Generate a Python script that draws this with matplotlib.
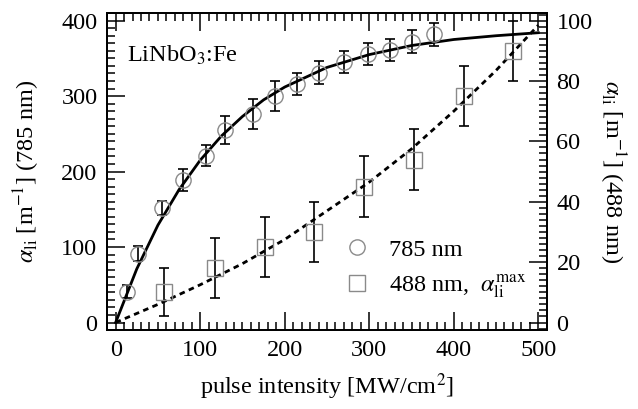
import matplotlib
matplotlib.use("Agg")
import matplotlib.pyplot as plt
from matplotlib.lines import Line2D
from matplotlib.ticker import MultipleLocator

plt.rcParams["font.family"] = ["Liberation Serif", "DejaVu Serif"]
plt.rcParams["mathtext.fontset"] = "stix"

# 785 nm data (left axis)
x785 = [13, 26, 55, 80, 107, 129, 162, 189, 214, 241, 270, 298, 324, 350, 377]
y785 = [41, 91, 152, 189, 221, 255, 276, 300, 316, 331, 345, 356, 361, 372, 382]
e785 = [9, 10, 9, 15, 14, 18, 20, 20, 15, 15, 15, 15, 15, 15, 15]

# 488 nm data (right axis)
x488 = [57, 117, 177, 235, 294, 353, 412, 470]
y488 = [10, 18, 25, 30, 45, 54, 75, 90]
e488 = [8, 10, 10, 10, 10, 10, 10, 10]

# fit curves
fit_x = [0, 25, 50, 75, 100, 125, 150, 175, 200, 250, 300, 350, 400, 450, 500]
fit785 = [0, 71, 129, 176, 215, 247, 273, 295, 312, 338, 355, 367, 375, 380, 384]
fit488_x = [0, 50, 100, 150, 200, 250, 300, 350, 400, 450, 500]
fit488 = [0, 6, 12.5, 19.5, 27.5, 37, 46.5, 57.5, 70, 83.5, 98.5]

fs = 17.5
fig = plt.figure(figsize=(6.38, 4.09), dpi=100)
ax = fig.add_axes([0.168, 0.193, 0.689, 0.775])
ax2 = ax.twinx()

gray = "#8a8a8a"
ax.plot(fit_x, fit785, color="black", lw=2)
ax.errorbar(x785, y785, yerr=e785, fmt="none", ecolor="black", elinewidth=1.2, capsize=3.5, capthick=1.2)
ax.plot(x785, y785, "o", mfc="none", mec=gray, ms=11, mew=1)

ax2.plot(fit488_x, fit488, color="black", lw=2, ls=(0, (2, 1.6)))
ax2.errorbar(x488, y488, yerr=e488, fmt="none", ecolor="black", elinewidth=1.2, capsize=3.5, capthick=1.2)
ax2.plot(x488, y488, "s", mfc="none", mec=gray, ms=11, mew=1)

ax.set_xlim(-10, 510)
ax.set_ylim(-10, 410)
ax2.set_ylim(-2.5, 102.5)

ax.xaxis.set_major_locator(MultipleLocator(100))
ax.xaxis.set_minor_locator(MultipleLocator(10))
ax.yaxis.set_major_locator(MultipleLocator(100))
ax.yaxis.set_minor_locator(MultipleLocator(10))
ax2.yaxis.set_major_locator(MultipleLocator(20))
ax2.yaxis.set_minor_locator(MultipleLocator(2))

ax.tick_params(which="both", direction="in", top=True, right=False, width=1.1, labelsize=fs)
ax.tick_params(which="major", length=13, pad=7)
ax.tick_params(which="minor", length=5.5)
ax2.tick_params(which="both", direction="in", width=1.1, labelsize=fs)
ax2.tick_params(which="major", length=13, pad=7)
ax2.tick_params(which="minor", length=5.5)
for a in (ax, ax2):
    for s in a.spines.values():
        s.set_linewidth(1.3)

ax.set_xlabel("pulse intensity [MW/cm$^2$]", fontsize=fs, labelpad=8)
ax.set_ylabel(r"$\alpha_{\rm li}$ [m$^{-1}$] (785 nm)", fontsize=fs, labelpad=14)
ax2.set_ylabel(r"$\alpha_{\rm li}$ [m$^{-1}$] (488 nm)", fontsize=fs, rotation=270, labelpad=25)

ax.text(0.045, 0.905, r"LiNbO$_3$:Fe", transform=ax.transAxes, fontsize=fs, va="top")

handles = [
    Line2D([], [], ls="none", marker="o", mfc="none", mec=gray, ms=11, mew=1),
    Line2D([], [], ls="none", marker="s", mfc="none", mec=gray, ms=11, mew=1),
]
ax.legend(handles, ["785 nm", r"488 nm,  $\alpha_{\rm li}^{\rm max}$"], loc="lower left",
          bbox_to_anchor=(0.49, 0.065), frameon=False, fontsize=fs, handletextpad=0.33,
          labelspacing=0.45, borderaxespad=0)

fig.savefig("out.png", dpi=100)
